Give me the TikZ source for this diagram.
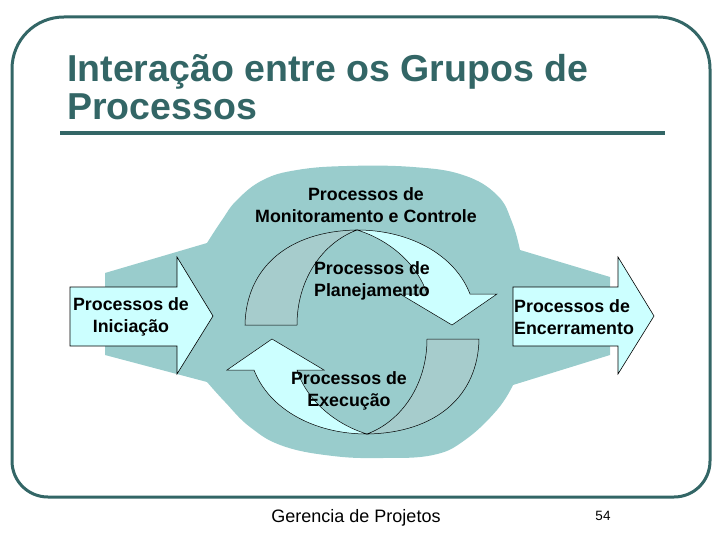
\documentclass[tikz,border=0pt]{standalone}
\usepackage{fontspec}
\setmainfont{Liberation Sans}
\definecolor{verdetitulo}{HTML}{336666}
\definecolor{fundo}{HTML}{99CCCC}
\definecolor{claro}{HTML}{CCFFFF}
\definecolor{escuro}{HTML}{A6CCCC}
\begin{document}
\begin{tikzpicture}[x=1pt, y=-1pt,
    rotulo/.style={font=\bfseries\fontsize{17.8}{21.8}\selectfont, align=center, inner sep=0pt},
    seta/.style={draw=black, line width=0.6pt, fill=claro, line join=miter},
    ciclo/.style={draw=black, line width=0.5pt}]
    \useasboundingbox (0,0) rectangle (720,540);

    % moldura
    \draw[verdetitulo, line width=3pt]
        (12,69) .. controls (12,40) and (35,17) .. (64,17) -- (658,17)
        .. controls (687,17) and (710,40) .. (710,69) -- (710,461)
        .. controls (710,481) and (694,497) .. (674,497) -- (48,497)
        .. controls (28,497) and (12,481) .. (12,461) -- cycle;

    % titulo
    \node[verdetitulo, font=\bfseries\fontsize{37.5}{38}\selectfont, align=left,
          anchor=north west, inner sep=0pt] (titulo) at (67,54)
        {Interação entre os Grupos de\\Processos};
    \draw[verdetitulo, line width=3.5pt] (60,133) -- (665,133);

    % fundo
    \fill[fundo] (105,273) -- (207,243)
        -- plot[smooth, tension=0.7] coordinates {(207,243) (222,220) (237,200) (263,180)
            (297,170) (347,166) (413,167) (463,175) (497,195) (512,222) (520,250)}
        -- (610,277) -- (610,355) -- (513,385)
        -- plot[smooth, tension=0.7] coordinates {(513,385) (497,410) (465,440) (433,455)
            (383,458) (333,456) (283,446) (250,427) (225,402) (207,382)}
        -- (105,355) -- cycle;

    % setas laterais
    \draw[seta] (70,287) -- (177,287) -- (177,257) -- (213,316) -- (177,374)
        -- (177,346) -- (70,346) -- cycle;
    \draw[seta] (513,287) -- (618,287) -- (618,257) -- (654,316) -- (618,374)
        -- (618,346) -- (513,346) -- cycle;

    % setas do ciclo
    \foreach \ang in {0,180} {
        \begin{scope}[rotate around={\ang:(362,332)}]
            \filldraw[ciclo, fill=escuro] (245,325) .. controls (246,268) and (288,231) .. (357,230)
                .. controls (322,243) and (297,280) .. (297,325) -- cycle;
            \filldraw[ciclo, fill=claro] (357,230) .. controls (410,230) and (455,255) .. (470,294)
                -- (497,294) -- (452,325) -- (400,294) -- (427,294)
                .. controls (418,265) and (390,240) .. (357,230) -- cycle;
        \end{scope}
    }

    % rotulos
    \node[rotulo] (monit) at (366,205) {Processos de\\Monitoramento e Controle};
    \node[rotulo] (planej) at (372,281) {Processos de\\Planejamento};
    \node[rotulo] (exec) at (349,391) {Processos de\\Execução};
    \node[rotulo] (inic) at (131,317) {Processos de\\Iniciação};
    \node[rotulo, align=left, anchor=west] (encerr) at (514,317) {Processos de\\Encerramento};

    % rodape
    \node[font=\fontsize{18}{20}\selectfont] (rodape) at (356,518) {Gerencia de Projetos};
    \node[font=\fontsize{13.5}{15}\selectfont] (pagina) at (603,516) {54};
\end{tikzpicture}
\end{document}
